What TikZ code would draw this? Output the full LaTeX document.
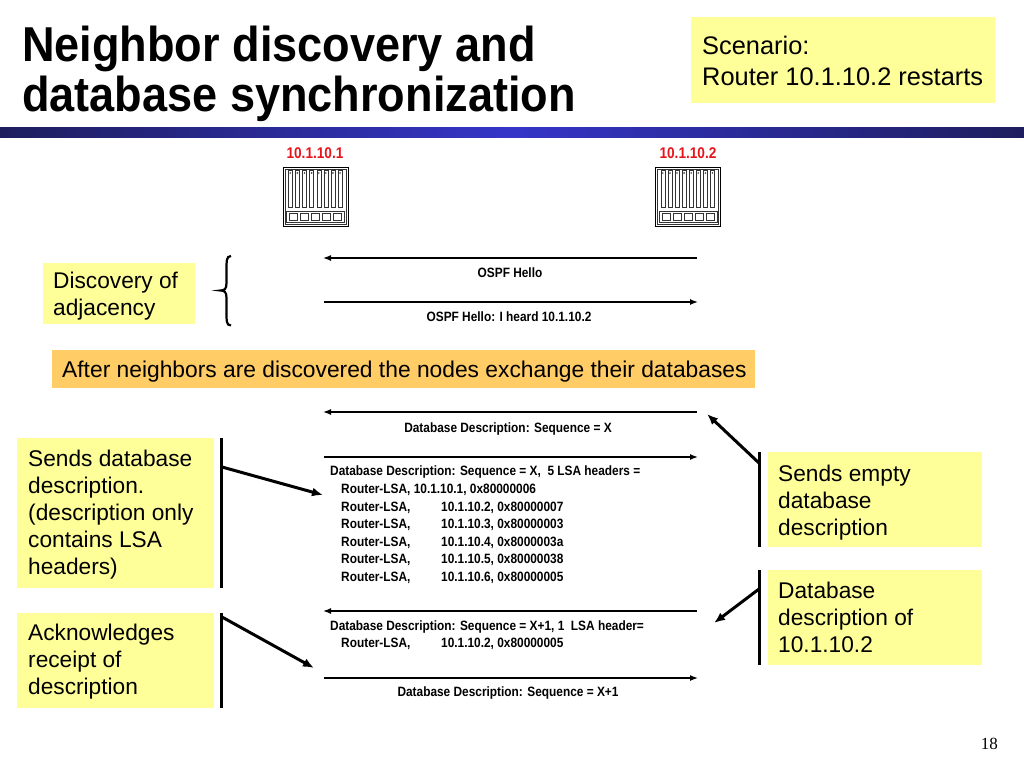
\documentclass[tikz,border=0pt]{standalone}
\usepackage{fontspec}
\setmainfont{Liberation Sans}
\newfontfamily\titlefont[FakeStretch=0.92]{Liberation Sans Bold}
\newfontfamily\narrowb[FakeStretch=0.88]{Liberation Sans Bold}
\newfontfamily\serifnum{Liberation Serif}
\usetikzlibrary{arrows.meta}
\definecolor{boxyellow}{HTML}{FFFF99}
\definecolor{boxorange}{HTML}{FFCC66}
\definecolor{barnavy}{HTML}{1E1E5E}
\definecolor{barblue}{HTML}{3535C8}
\definecolor{ipred}{HTML}{E8141B}
\definecolor{icongray}{HTML}{333333}
\tikzset{
  routericon/.pic={
    \draw[line width=0.7pt] (-32.5,-29.5) rectangle (32.5,29.5);
    \draw[line width=0.35pt, icongray] (-30.5,-27.5) rectangle (30.5,27.5);
    \foreach \i in {0,...,7} {
      \draw[line width=0.35pt, icongray] ({-27.2+\i*7.1},-26) rectangle ({-23.2+\i*7.1},11);
      \draw[line width=0.3pt, icongray] ({-25.2+\i*7.1},-23.5) circle (0.7);
    }
    \draw[line width=0.35pt, icongray] (-29,14.5) rectangle (29,26);
    \foreach \i in {0,...,4}
      \draw[line width=0.35pt, icongray] ({-26+\i*11},17) rectangle ({-18+\i*11},23.5);
  }
}
\begin{document}
\begin{tikzpicture}[x=1pt,y=-1pt,
  ybox/.style={fill=boxyellow, draw=none, anchor=north west, inner sep=0},
  obox/.style={fill=boxorange, draw=none, anchor=north west, inner sep=0},
  txt/.style={anchor=base west, inner sep=0, font=\fontsize{22.7}{27}\selectfont},
  msg/.style={line width=1.4pt, -{Latex[length=8pt,width=6pt]}},
  msgtxt/.style={inner sep=0, font=\narrowb\fontsize{13.5}{16}\selectfont},
  mleft/.style={msgtxt, anchor=base west},
  mcenter/.style={msgtxt, anchor=base},
  callout/.style={line width=3pt, -{Latex[length=11pt,width=9pt]}},
  barline/.style={line width=3pt},
  iplabel/.style={inner sep=0, text=ipred, font=\narrowb\fontsize{15.5}{18}\selectfont},
]
\useasboundingbox (0,0) rectangle (1024,768);
\fill[white] (0,0) rectangle (1024,768);

% title
\node[anchor=base west, inner sep=0, font=\titlefont\fontsize{49}{50}\selectfont] (title1) at (22,61) {Neighbor discovery and};
\node[anchor=base west, inner sep=0, font=\titlefont\fontsize{49}{50}\selectfont] (title2) at (22,111) {database synchronization};
\shade[left color=barnavy, right color=barnavy, middle color=barblue] (0,127.5) rectangle (1024,137.5);

% scenario
\node[ybox, minimum width=304pt, minimum height=86pt] (scen) at (691,17) {};
\node[anchor=base west, inner sep=0, font=\fontsize{25.4}{30.5}\selectfont] (scentxt) at (702,55)
  {\vtop{\hbox{Scenario:}\hbox{Router 10.1.10.2 restarts}}};

% routers
\pic (r1) at (315.5,196.5) {routericon};
\pic (r2) at (688,196.5) {routericon};
\node[iplabel] (ip1) at (315,153) {10.1.10.1};
\node[iplabel] (ip2) at (688,153) {10.1.10.2};

% discovery
\node[ybox, minimum width=152pt, minimum height=61pt] (disc) at (43,263) {};
\node[txt] (disctxt) at (53,288) {\vtop{\hbox{Discovery of}\hbox{adjacency}}};
\draw[line width=2.2pt] (231,256) .. controls (226,256) and (226.5,262) .. (226.5,270)
  -- (226.5,283) .. controls (226.5,289) and (224.5,290.5) .. (220.5,290.5)
  .. controls (224.5,290.5) and (226.5,292) .. (226.5,298)
  -- (226.5,312) .. controls (226.5,320) and (226,325.5) .. (231,325.5);

% hello messages
\coordinate (h1r) at (697,258); \coordinate (h1l) at (323,258);
\coordinate (h2l) at (324,302); \coordinate (h2r) at (698,302);
\draw[msg] (h1r) -- (h1l);
\draw[msg] (h2l) -- (h2r);
\node[mcenter] (h1t) at (510,277) {OSPF Hello};
\node[mcenter] (h2t) at (509,321) {OSPF Hello: I heard 10.1.10.2};

% orange banner
\node[obox, minimum width=703pt, minimum height=38pt] (banner) at (52,350) {};
\node[anchor=base west, inner sep=0, font=\fontsize{22.8}{27}\selectfont] (bantxt) at (62,377)
  {After neighbors are discovered the nodes exchange their databases};

% DD messages
\coordinate (d1r) at (697,412); \coordinate (d1l) at (323,412);
\coordinate (d2l) at (324,457); \coordinate (d2r) at (698,457);
\coordinate (d3r) at (697,611); \coordinate (d3l) at (323,611);
\coordinate (d4l) at (324,678); \coordinate (d4r) at (698,678);
\draw[msg] (d1r) -- (d1l);
\draw[msg] (d2l) -- (d2r);
\draw[msg] (d3r) -- (d3l);
\draw[msg] (d4l) -- (d4r);
\node[mcenter] (d1t) at (508,432) {Database Description: Sequence = X};
\node[mleft] (d2a) at (330,475) {Database Description: Sequence = X,\ \ 5 LSA headers =};
\node[mleft] (d2b) at (341,493) {Router-LSA, 10.1.10.1, 0x80000006};
\node[mleft] (d2c1) at (341,511) {Router-LSA,};
\node[mleft] (d2c2) at (441,511) {10.1.10.2, 0x80000007};
\node[mleft] (d2d1) at (341,528) {Router-LSA,};
\node[mleft] (d2d2) at (441,528) {10.1.10.3, 0x80000003};
\node[mleft] (d2e1) at (341,546) {Router-LSA,};
\node[mleft] (d2e2) at (441,546) {10.1.10.4, 0x8000003a};
\node[mleft] (d2f1) at (341,563) {Router-LSA,};
\node[mleft] (d2f2) at (441,563) {10.1.10.5, 0x80000038};
\node[mleft] (d2g1) at (341,581) {Router-LSA,};
\node[mleft] (d2g2) at (441,581) {10.1.10.6, 0x80000005};
\node[mleft] (d3a) at (330,630) {Database Description: Sequence = X+1, 1\ \ LSA header=};
\node[mleft] (d3b1) at (341,647) {Router-LSA,};
\node[mleft] (d3b2) at (441,647) {10.1.10.2, 0x80000005};
\node[mcenter] (d4t) at (508,696) {Database Description: Sequence = X+1};

% left callouts
\node[ybox, minimum width=197pt, minimum height=150pt] (sendbox) at (17,438) {};
\node[txt] (sendtxt) at (28,466) {\vtop{\hbox{Sends database}\hbox{description.}\hbox{(description only}\hbox{contains LSA}\hbox{headers)}}};
\coordinate (lb1t) at (221,438); \coordinate (lb1b) at (221,588);
\draw[barline] (lb1t) -- (lb1b);
\coordinate (la1s) at (222,467); \coordinate (la1e) at (323,495);
\draw[callout] (la1s) -- (la1e);

\node[ybox, minimum width=197pt, minimum height=95pt] (ackbox) at (17,613) {};
\node[txt] (acktxt) at (28,640) {\vtop{\hbox{Acknowledges}\hbox{receipt of}\hbox{description}}};
\coordinate (lb2t) at (221,613); \coordinate (lb2b) at (221,708);
\draw[barline] (lb2t) -- (lb2b);
\coordinate (la2s) at (222,617); \coordinate (la2e) at (314,668);
\draw[callout] (la2s) -- (la2e);

% right callouts
\node[ybox, minimum width=214pt, minimum height=95pt] (emptybox) at (768,452) {};
\node[txt] (emptytxt) at (778,481) {\vtop{\hbox{Sends empty}\hbox{database}\hbox{description}}};
\coordinate (rb1t) at (759,452); \coordinate (rb1b) at (759,547);
\draw[barline] (rb1t) -- (rb1b);
\coordinate (ra1s) at (759,463); \coordinate (ra1e) at (707,414);
\draw[callout] (ra1s) -- (ra1e);

\node[ybox, minimum width=214pt, minimum height=95pt] (descbox) at (768,570) {};
\node[txt] (desctxt) at (778,598) {\vtop{\hbox{Database}\hbox{description of}\hbox{10.1.10.2}}};
\coordinate (rb2t) at (759,570); \coordinate (rb2b) at (759,665);
\draw[barline] (rb2t) -- (rb2b);
\coordinate (ra2s) at (759,589); \coordinate (ra2e) at (714,623);
\draw[callout] (ra2s) -- (ra2e);

% page number
\node[anchor=base east, inner sep=0, font=\serifnum\fontsize{17}{20}\selectfont] (pg) at (998,749) {18};
\end{tikzpicture}
\end{document}
